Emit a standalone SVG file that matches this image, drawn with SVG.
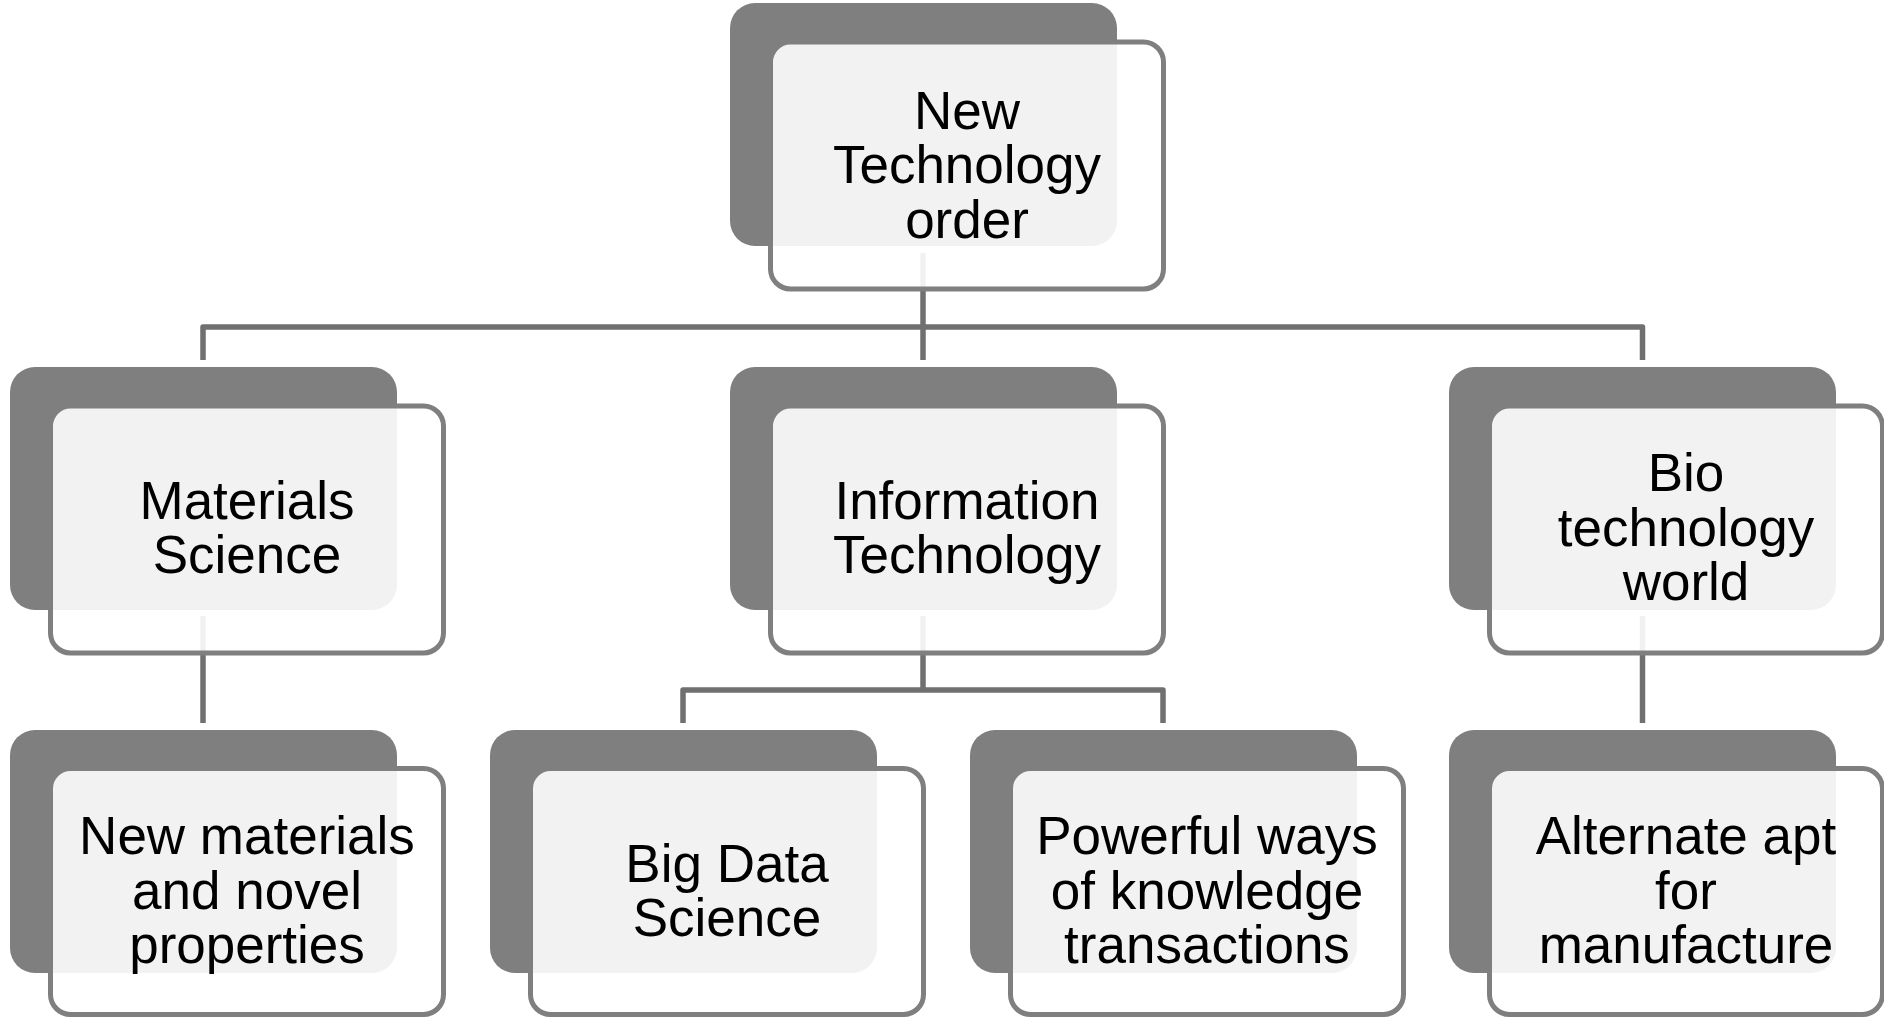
<svg xmlns="http://www.w3.org/2000/svg" width="1884" height="1020" viewBox="0 0 1884 1020">
<style>
.back{fill:#7f7f7f;}
.front{fill:#ffffff;fill-opacity:0.9;stroke:#7f7f7f;stroke-width:5;}
.conn{fill:none;stroke:#707070;stroke-width:5.5;stroke-linejoin:round;}
.lbl{font-family:"Liberation Sans",Arial,sans-serif;font-size:53px;fill:#000;text-anchor:middle;}
</style>
<rect width="1884" height="1020" fill="#ffffff"/>
<g id="connectors">
<path class="conn" d="M923,253 V360"/>
<path class="conn" d="M203,360 V327 H1642.5 V360"/>
<path class="conn" d="M923,616 V690"/>
<path class="conn" d="M683,723 V690 H1163 V723"/>
<path class="conn" d="M203,616 V723"/>
<path class="conn" d="M1642.5,616 V723"/>
</g>
<g id="n-top">
<rect class="back" x="730" y="3" width="387" height="243" rx="25"/>
<rect class="front" x="770.5" y="42" width="393" height="247" rx="20"/>
<text class="lbl" x="967" y="128.5"><tspan x="967">New</tspan><tspan x="967" dy="54.5">Technology</tspan><tspan x="967" dy="54.5">order</tspan></text>
</g>
<g id="n-materials">
<rect class="back" x="10" y="367" width="387" height="243" rx="25"/>
<rect class="front" x="50.5" y="406" width="393" height="247" rx="20"/>
<text class="lbl" x="247" y="518.5"><tspan x="247">Materials</tspan><tspan x="247" dy="54.5">Science</tspan></text>
</g>
<g id="n-info">
<rect class="back" x="730" y="367" width="387" height="243" rx="25"/>
<rect class="front" x="770.5" y="406" width="393" height="247" rx="20"/>
<text class="lbl" x="967" y="518.5"><tspan x="967">Information</tspan><tspan x="967" dy="54.5">Technology</tspan></text>
</g>
<g id="n-bio">
<rect class="back" x="1449" y="367" width="387" height="243" rx="25"/>
<rect class="front" x="1489.5" y="406" width="393" height="247" rx="20"/>
<text class="lbl" x="1686" y="491"><tspan x="1686">Bio</tspan><tspan x="1686" dy="54.5">technology</tspan><tspan x="1686" dy="54.5">world</tspan></text>
</g>
<g id="n-newmat">
<rect class="back" x="10" y="730" width="387" height="243" rx="25"/>
<rect class="front" x="50.5" y="768.5" width="393" height="246" rx="20"/>
<text class="lbl" x="247" y="854"><tspan x="247">New materials</tspan><tspan x="247" dy="54.5">and novel</tspan><tspan x="247" dy="54.5">properties</tspan></text>
</g>
<g id="n-bigdata">
<rect class="back" x="490" y="730" width="387" height="243" rx="25"/>
<rect class="front" x="530.5" y="768.5" width="393" height="246" rx="20"/>
<text class="lbl" x="727" y="881.5"><tspan x="727">Big Data</tspan><tspan x="727" dy="54.5">Science</tspan></text>
</g>
<g id="n-powerful">
<rect class="back" x="970" y="730" width="387" height="243" rx="25"/>
<rect class="front" x="1010.5" y="768.5" width="393" height="246" rx="20"/>
<text class="lbl" x="1207" y="854"><tspan x="1207">Powerful ways</tspan><tspan x="1207" dy="54.5">of knowledge</tspan><tspan x="1207" dy="54.5">transactions</tspan></text>
</g>
<g id="n-alternate">
<rect class="back" x="1449" y="730" width="387" height="243" rx="25"/>
<rect class="front" x="1489.5" y="768.5" width="393" height="246" rx="20"/>
<text class="lbl" x="1686" y="854"><tspan x="1686">Alternate apt</tspan><tspan x="1686" dy="54.5">for</tspan><tspan x="1686" dy="54.5">manufacture</tspan></text>
</g>
</svg>
